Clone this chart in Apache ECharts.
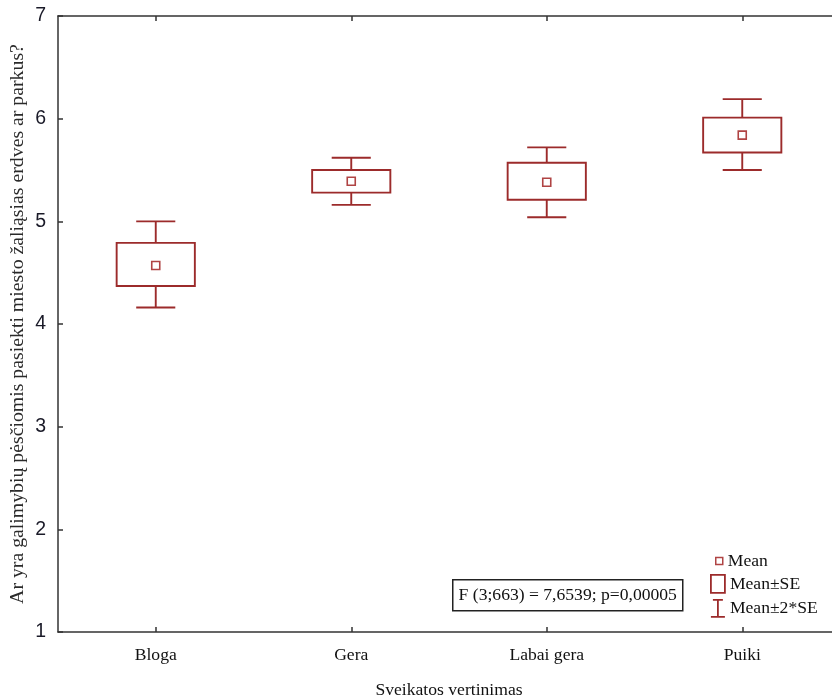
<!DOCTYPE html>
<html>
<head>
<meta charset="utf-8">
<script src="https://cdn.jsdelivr.net/npm/echarts@6/dist/echarts.min.js"></script>
<style>
html,body{margin:0;padding:0;background:#fff;}
#chart{width:832px;height:698px;}
</style>
</head>
<body>
<div id="chart"></div>
<script>
// ---- data ----
var categories = ['Bloga', 'Gera', 'Labai gera', 'Puiki'];
var means   = [4.57, 5.39, 5.38, 5.84];
var seLow   = [4.37, 5.28, 5.21, 5.67];
var seHigh  = [4.79, 5.50, 5.57, 6.01];
var se2Low  = [4.16, 5.16, 5.04, 5.50];
var se2High = [5.00, 5.62, 5.72, 6.19];
var yTicks  = [1, 2, 3, 4, 5, 6, 7];
var statText = 'F (3;663) = 7,6539; p=0,00005';

var RED = '#9c2b2b';
var SERIF = '"Liberation Serif", "Times New Roman", serif';
var AXIS = '#333333';

var boxData = categories.map(function (c, i) { return [i, seLow[i], seHigh[i]]; });
var whiskData = categories.map(function (c, i) { return [i, se2Low[i], seLow[i], seHigh[i], se2High[i]]; });
var meanData = categories.map(function (c, i) { return [i, means[i]]; });

var chart = echarts.init(document.getElementById('chart'), null, {renderer: 'canvas'});

var option = {
  animation: false,
  backgroundColor: '#ffffff',
  grid: {left: 58, top: 16, width: 782, bottom: 66, containLabel: false, outerBoundsMode: 'none'},
  xAxis: [{
    type: 'category',
    data: categories,
    position: 'bottom',
    boundaryGap: true,
    name: 'Sveikatos vertinimas',
    nameLocation: 'middle',
    nameGap: 49,
    nameMoveOverlap: false,
    nameTextStyle: {fontFamily: SERIF, fontSize: 17.6, color: '#111'},
    axisLine: {show: true, lineStyle: {color: AXIS, width: 1.5}},
    axisTick: {show: true, inside: true, length: 5, alignWithLabel: true, lineStyle: {color: AXIS, width: 1.5}},
    axisLabel: {fontFamily: SERIF, fontSize: 17.6, color: '#111', margin: 14},
    splitLine: {show: false}
  }, {
    type: 'category',
    data: categories,
    position: 'top',
    boundaryGap: true,
    axisLine: {show: true, lineStyle: {color: AXIS, width: 1.5}},
    axisTick: {show: true, inside: true, length: 5, alignWithLabel: true, lineStyle: {color: AXIS, width: 1.5}},
    axisLabel: {show: false},
    splitLine: {show: false}
  }],
  yAxis: [{
    type: 'value',
    min: 1, max: 7, interval: 1,
    name: 'Ar yra galimybių pėsčiomis pasiekti miesto žaliąsias erdves ar parkus?',
    nameLocation: 'middle',
    nameGap: 30,
    nameMoveOverlap: false,
    nameRotate: 90,
    nameTextStyle: {fontFamily: SERIF, fontSize: 19.8, color: '#2a2a2a'},
    axisLine: {show: true, lineStyle: {color: AXIS, width: 1.5}},
    axisTick: {show: true, inside: true, length: 5, lineStyle: {color: AXIS, width: 1.5}},
    axisLabel: {
      fontFamily: '"Liberation Sans", Arial, sans-serif', fontSize: 19.5, color: '#1a1a28', margin: 12,
      formatter: function (v) { return yTicks.indexOf(v) >= 0 ? String(v) : ''; }
    },
    splitLine: {show: false}
  }],
  legend: [{
    data: [{name: 'Mean', icon: 'rect', itemStyle: {color: '#ffffff', borderColor: '#b04444', borderWidth: 1.5}}],
    left: 715, top: 552, padding: 0, itemWidth: 7, itemHeight: 7, selectedMode: false,
    textStyle: {fontFamily: SERIF, fontSize: 17.6, color: '#111'}
  }, {
    data: [{name: 'Mean±SE', icon: 'rect', itemStyle: {color: '#ffffff', borderColor: RED, borderWidth: 1.8}}],
    left: 710, top: 574, padding: 0, itemWidth: 14, itemHeight: 18, selectedMode: false,
    textStyle: {fontFamily: SERIF, fontSize: 17.6, color: '#111'}
  }, {
    data: [{name: 'Mean±2*SE', icon: 'path://M2,0L12,0M7,0L7,17M0,17L14,17', itemStyle: {color: 'transparent', borderColor: RED, borderWidth: 1.8}}],
    left: 710, top: 599, padding: 0, itemWidth: 14, itemHeight: 17, selectedMode: false,
    textStyle: {fontFamily: SERIF, fontSize: 17.6, color: '#111'}
  }],
  graphic: [{
    type: 'group',
    left: 452, top: 579,
    children: [{
      type: 'rect',
      shape: {x: 0, y: 0, width: 230, height: 31},
      style: {fill: '#fff', stroke: '#222', lineWidth: 1.5}
    }, {
      type: 'text',
      x: 115, y: 16,
      style: {text: statText, font: '17.6px ' + SERIF, fill: '#111', align: 'center', verticalAlign: 'middle'}
    }]
  }],
  series: [{
    name: 'Mean±2*SE',
    type: 'custom',
    xAxisIndex: 0, yAxisIndex: 0,
    data: whiskData,
    encode: {x: 0, y: [1, 2, 3, 4]},
    itemStyle: {color: RED},
    renderItem: function (params, api) {
      var i = api.value(0);
      var band = api.size([1, 0])[0];
      var cap = band * 0.2 / 2;
      var pLo2 = api.coord([i, api.value(1)]);
      var pLo1 = api.coord([i, api.value(2)]);
      var pHi1 = api.coord([i, api.value(3)]);
      var pHi2 = api.coord([i, api.value(4)]);
      var st = {stroke: RED, lineWidth: 1.9, fill: null};
      return {
        type: 'group',
        children: [
          {type: 'line', shape: {x1: pHi2[0], y1: pHi2[1], x2: pHi1[0], y2: pHi1[1]}, style: st},
          {type: 'line', shape: {x1: pLo1[0], y1: pLo1[1], x2: pLo2[0], y2: pLo2[1]}, style: st},
          {type: 'line', shape: {x1: pHi2[0] - cap, y1: pHi2[1], x2: pHi2[0] + cap, y2: pHi2[1]}, style: st},
          {type: 'line', shape: {x1: pLo2[0] - cap, y1: pLo2[1], x2: pLo2[0] + cap, y2: pLo2[1]}, style: st}
        ]
      };
    }
  }, {
    name: 'Mean±SE',
    type: 'custom',
    xAxisIndex: 0, yAxisIndex: 0,
    data: boxData,
    encode: {x: 0, y: [1, 2]},
    itemStyle: {color: RED},
    renderItem: function (params, api) {
      var i = api.value(0);
      var band = api.size([1, 0])[0];
      var half = band * 0.4 / 2;
      var pLo = api.coord([i, api.value(1)]);
      var pHi = api.coord([i, api.value(2)]);
      return {
        type: 'rect',
        shape: {x: pHi[0] - half, y: pHi[1], width: half * 2, height: pLo[1] - pHi[1]},
        style: {stroke: RED, lineWidth: 1.9, fill: '#ffffff'}
      };
    }
  }, {
    name: 'Mean',
    type: 'scatter',
    xAxisIndex: 0, yAxisIndex: 0,
    data: meanData,
    symbol: 'rect',
    symbolSize: 8,
    z: 5,
    itemStyle: {color: '#ffffff', borderColor: '#b04444', borderWidth: 1.6, opacity: 1}
  }]
};
chart.setOption(option);
</script>
</body>
</html>
